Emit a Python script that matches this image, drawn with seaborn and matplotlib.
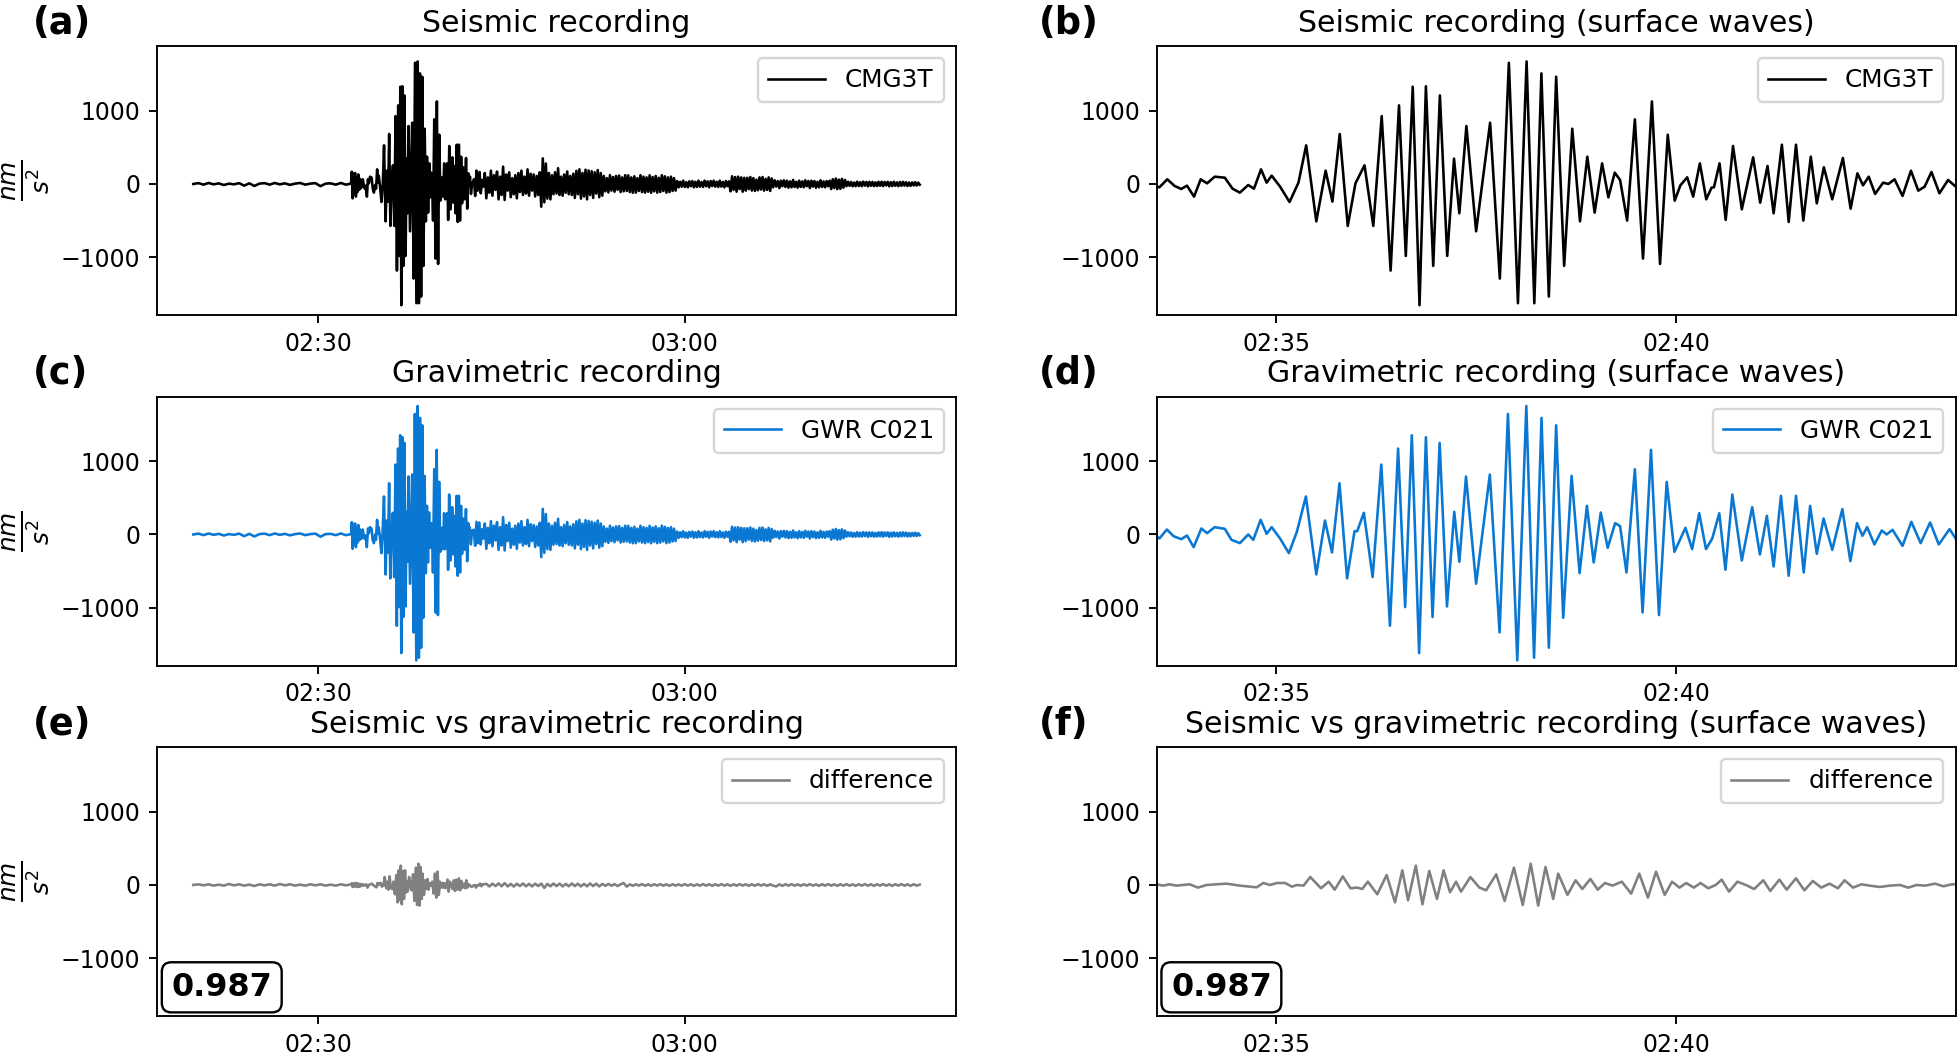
import numpy as np
import pandas as pd
import matplotlib
matplotlib.use("Agg")
import matplotlib.pyplot as plt
import matplotlib.dates as mdates
import seaborn as sns

# Times are seconds relative to 02:33:30 (start of the surface wave window)
START = pd.Timestamp("2021-08-12 02:33:30")

# --- before the window (shared by seismometer and gravimeter, they overlap at this scale)
pre_t = [-825, -800, -775, -750, -725, -700, -675, -650, -625, -600, -575, -550, -525, -500,
         -475, -450, -425, -400, -375, -350, -325, -300, -275, -250, -225, -200, -175, -150,
         -125, -100, -75, -50, -46, -42, -38, -34, -30, -26, -22, -18, -14, -10, -6, -3]
pre_v = [0, 12, -9, 14, -5, 9, -14, 5, -5, 12, -23, 9, -27, 5, 12, -9, 14, -5, 9, -12,
         5, 14, -9, 5, 12, -30, 5, 9, -9, 14, -9, 5,
         168, -196, 140, -120, 150, -173, 90, -110, 130, -80, 70, -60]
diff_pre_v = [0, 9, -5, 9, -9, 5, -9, 14, -5, 9, -9, 5, -14, 9, -5, 9, -9, 14, -5, 9,
              -9, 5, -9, 9, -5, 9, -9, 5, -9, 9, -5, 9,
              23, -27, 18, -23, 27, -18, 23, -27, 18, -23, 14, -18]

# --- surface wave window, 02:33:30 - 02:43:30 (peaks and troughs)
seis_t = [0, 2.1, 8.0, 13.5, 18.5, 22.8, 28.1, 33.1, 37.9, 43.6,
          51.2, 57.0, 62.5, 68.8, 73.1, 78.4, 82.6, 86.4, 92.7, 99.8,
          106.5, 112.3, 119.9, 126.9, 132.0, 137.5, 143.5, 149.3, 156.1, 162.7,
          169.0, 175.7, 182.0, 187.1, 192.3, 197.4, 202.2, 207.7, 212.7, 218.2,
          223.3, 227.3, 232.6, 239.9, 250.4, 257.7, 264.5, 271.3, 277.8, 283.6,
          288.9, 294.5, 300.0, 306.0, 312.1, 317.9, 323.4, 328.9, 334.5, 339.2,
          344.0, 348.0, 353.3, 359.1, 365.2, 371.9, 378.0, 383.8, 389.0, 393.3,
          398.4, 402.9, 407.9, 412.7, 416.7, 418.5, 422.7, 427.3, 432.8, 439.4,
          447.9, 453.2, 458.7, 463.3, 469.5, 474.6, 480.1, 485.6, 491.2, 495.7,
          501.0, 507.3, 515.3, 521.1, 526.2, 530.4, 534.7, 539.5, 545.5, 549.5,
          554.1, 560.1, 566.4, 571.9, 576.7, 581.8, 587.8, 594.3, 600.0]
seis_v = [-36, -45, 64, -27, -68, -23, -173, 64, 9, 100,
          86, -64, -118, -14, -64, 200, 18, 114, -36, -246,
          18, 528, -510, 182, -241, 683, -573, 9, 255, -573,
          928, -1183, 1074, -983, 1329, -1656, 1335, -1119, 1210, -983,
          346, -400, 792, -646, 837, -1292, 1656, -1629, 1674, -1629,
          1511, -1538, 1465, -1119, 755, -510, 373, -391, 282, -182,
          155, 55, -500, 883, -1019, 1128, -1092, 673, -228, -18,
          91, -173, 282, -209, -50, -45, 282, -491, 519, -346,
          364, -255, 246, -400, 537, -519, 537, -500, 373, -264,
          228, -209, 355, -337, 146, -18, 100, -136, 18, 0,
          64, -164, 182, -91, -36, 164, -127, 55, -36]

grav_t = [0, 2.1, 7.7, 12.7, 18.5, 22.8, 27.8, 33.6, 37.9, 43.6,
          51.2, 56.2, 62.5, 68.8, 72.6, 78.1, 82.6, 86.4, 92.7, 99.3,
          105.3, 112.1, 119.9, 126.4, 131.7, 137.3, 143.0, 148.6, 150.6, 155.6,
          162.2, 168.7, 175.2, 181.3, 186.6, 191.6, 197.1, 202.2, 207.2, 212.5,
          218.0, 223.5, 227.3, 232.3, 239.9, 250.2, 257.5, 263.8, 270.8, 277.6,
          283.4, 289.0, 294.5, 300.0, 305.3, 311.6, 317.6, 323.1, 328.2, 333.5,
          338.7, 344.3, 348.0, 352.8, 359.1, 364.9, 371.2, 377.2, 383.0, 388.8,
          397.1, 402.1, 407.4, 412.5, 417.2, 422.5, 427.1, 432.3, 439.4, 447.2,
          453.0, 458.2, 463.3, 468.8, 474.6, 480.1, 485.9, 490.7, 495.7, 500.8,
          507.3, 514.9, 520.9, 525.9, 530.0, 533.5, 539.0, 544.5, 548.1, 552.6,
          560.1, 566.7, 573.7, 580.8, 587.3, 595.4, 600.0]
grav_v = [-23, -55, 68, -23, -64, -14, -173, 82, 18, 100,
          77, -73, -118, 0, -73, 200, 9, 100, -55, -255,
          36, 519, -546, 191, -246, 700, -600, 45, 45, 296,
          -582, 955, -1247, 1174, -992, 1356, -1620, 1329, -1128, 1251,
          -983, 309, -373, 792, -673, 819, -1338, 1647, -1720, 1756,
          -1684, 1593, -1547, 1492, -1138, 801, -528, 391, -382, 300,
          -182, 155, 114, -519, 892, -1065, 1156, -1101, 719, -237,
          91, -200, 291, -200, -55, 291, -482, 546, -355, 373,
          -273, 255, -437, 528, -564, 528, -519, 391, -264, 218,
          -209, 346, -364, 155, -18, 100, -136, 55, 0, 64,
          -155, 173, -118, 164, -136, 73, -55]

diff_t = [0, 4.7, 9.7, 14.7, 24.8, 31.1, 37.4, 52.5, 62.5, 75.1,
          80.1, 85.2, 90.2, 96.5, 101.5, 105.3, 110.3, 115.4, 123.4, 129.2,
          133.7, 139.8, 145.5, 150.6, 154.4, 158.6, 165.7, 172.7, 179.0, 184.5,
          188.8, 194.6, 199.6, 204.7, 210.5, 215.5, 220.3, 224.8, 228.6, 235.6,
          242.4, 247.4, 255.0, 261.3, 268.3, 274.9, 280.9, 286.5, 292.0, 297.8,
          301.5, 308.5, 314.6, 319.6, 325.7, 331.2, 336.7, 342.3, 349.3, 356.3,
          362.4, 368.9, 375.0, 381.5, 387.0, 392.6, 397.6, 403.4, 408.4, 414.2,
          419.8, 424.3, 429.8, 436.1, 442.4, 448.7, 455.5, 460.8, 467.6, 473.1,
          480.1, 486.4, 492.7, 499.0, 505.3, 511.6, 516.6, 522.9, 529.2, 535.5,
          543.0, 550.6, 558.1, 564.4, 570.7, 577.0, 584.5, 590.8, 597.1, 600.0]
diff_v = [9, -9, 9, -9, 9, -36, 0, 18, -9, -32,
          27, 0, 27, 27, -23, 0, -9, 109, -45, 45,
          -64, 118, -45, -36, -55, 45, -127, 136, -237, 200,
          -209, 264, -264, 191, -191, 200, -100, 45, -91, 109,
          -36, -73, 146, -218, 237, -273, 291, -282, 246, -191,
          155, -136, 64, -55, 82, -64, 27, -9, 45, -118,
          155, -173, 182, -136, 45, -36, 27, -36, 27, -45,
          0, 73, -91, 45, 0, -55, 64, -82, 73, -64,
          91, -73, 55, -36, 18, -45, 64, -36, 9, -9,
          -27, -9, 0, -36, 0, -9, 18, -18, 9, 9]

# --- coda after the window, one value every 7.5 s from 607.5 s to 03:19
CODA_START, CODA_STEP = 607.5, 7.5
coda_v = [150, -196, 90, -120, 182, -160, 120, -80, 170, -210, 100, -150, 237, -218, 130, -90, 160, -180, 80,
          -140, 120, -196, 150, -110, 182, -150, 100, -130, 200, -160, 140, -90, 130, -170, 110, -150, 160,
          -310, 350, -250, 280, -200,
          150, -210, 120, -140, 160, -130, 215, -150, 100, -160, 130, -120, 170, -140, 110, -150, 140,
          -190, 180, -140, 200, -200, 150, -170, 195, -210, 185, -150, 175, -190, 160, -130, 190, -180, 150, -160,
          110, -100, 80, -115, 120, -90, 95, -105, 110, -80, 115, -110, 90, -100, 120, -95,
          118, -110, 90, -120, 105, -118, 80, -95, 120, -110, 100, -118, 90, -105, 118, -120,
          95, -100, 110, -118, 85, -110, 120, -95, 105, -118, 90, -110, 100, -95, 80, -90,
          40, -45, 30, -36, 45, -40, 25, -45, 36, -30, 40, -45, 30, -40, 45, -36, 28, -40,
          45, -30, 36, -45, 40, -28, 45, -36, 30, -40, 45, -36, 28, -45, 40, -30, 36,
          -100, 105, -80, 95, -105, 100, -70, 90, -105, 85,
          -90, 85, -70, 95, -90, 80, -95, 60, -85, 90, -75, 95, -90, 70, -80, 90, -95, 75,
          -45, 50, -35, 40, -55, 45, -30, 50, -40, 45, -50, 35, -45, 55, -40, 30, -50, 45, -40,
          35, -45, 50, -30, 40, -55, 45, -35, 40, -50, 30, -45, 50, -40, 35, -45, 40, -30, 45,
          -70, 65, -55, 75, -70, 60, -65, 70, -50, 55,
          -30, 32, -25, 28, -32, 20, -30, 32, -28, 25, -30, 32, -22, 28, -32, 30, -25, 28, -30, 22,
          -28, 30, -25, 32, -30, 28, -20, 30, -32, 25, -28, 30, -25, 22, -30, 28, -25, 30, -22, 25,
          -28, 20, -25, 22, -20, 25, -22, 18, -10]

# difference after the window, one value every 15 s
DIFF_CODA_START, DIFF_CODA_STEP = 615, 15
diff_coda_v = [15, -20, 18, -15, 22, -18, 25, -20, 15, -22, 18, -15, 20, -18, 15, -20, 18, -15,
               20, -40, 15, -18, 20, -15, 18, -20, 15, -18, 20,
               -15, 18, -20, 15, -18, 20, -15, 18, -20, 15,
               -12, 15, -10, 12, -15, 10, 27, -23,
               9, -12, 10, -9, 12, -10, 9, -12, 10, -9, 12, -10, 9, -12, 10, -9,
               9, -10, 12, -9, 10, -12, 9, -10, 12, -9, 10, -12, 9, -10, 12, -9, 10, -12,
               9, -10, 12, -9, 10,
               -12, 9, -10, 12, -9, 10, -12, 9, -10,
               -20, 9, -12, 10, -9, 12, -10, 9, -12, 10, -9, 12, -10, 9, -12, 10, -9, 12, -10,
               9, -12, 10, -9, 12,
               -10, 9, -12, 10, -9, 12, -10, 9, -12, 10, -9, 12, -10, 9, -12, 10, -9, 12, -10, 9, -12, 10, -9, 5]

correlation = "0.987"
titles = ["Seismic recording", "Seismic recording (surface waves)",
          "Gravimetric recording", "Gravimetric recording (surface waves)",
          "Seismic vs gravimetric recording", "Seismic vs gravimetric recording (surface waves)"]
panel_tags = ["(a)", "(b)", "(c)", "(d)", "(e)", "(f)"]


def to_time(sec):
    return START + pd.to_timedelta(np.asarray(sec, dtype=float), unit="s")


coda_t = CODA_START + CODA_STEP * np.arange(len(coda_v))
diff_coda_t = DIFF_CODA_START + DIFF_CODA_STEP * np.arange(len(diff_coda_v))


def frame(t, v):
    return pd.DataFrame({"time": to_time(t), "value": np.asarray(v, dtype=float)})


full_seis = frame(np.concatenate([pre_t, seis_t, coda_t]), pre_v + seis_v + coda_v)
full_grav = frame(np.concatenate([pre_t, grav_t, coda_t]), pre_v + grav_v + coda_v)
full_diff = frame(np.concatenate([pre_t, diff_t, diff_coda_t]), diff_pre_v + diff_v + diff_coda_v)
win_seis = frame(seis_t, seis_v)
win_grav = frame(grav_t, grav_v)
win_diff = frame(diff_t, diff_v)

plt.rcParams["font.family"] = ["DejaVu Sans"]

fig, axes = plt.subplots(3, 2, figsize=(1960 / 170, 1058 / 170), dpi=170)
fig.subplots_adjust(left=0.0801, right=0.9978, top=0.9565, bottom=0.0397,
                    wspace=0.251, hspace=0.303)

rows = [(full_seis, win_seis, "black", "CMG3T"),
        (full_grav, win_grav, "#0a78d2", "GWR C021"),
        (full_diff, win_diff, "grey", "difference")]

for r, (full, win, col, lab) in enumerate(rows):
    for c, df in enumerate([full, win]):
        ax = axes[r, c]
        sns.lineplot(data=df, x="time", y="value", ax=ax, color=col, lw=1.1,
                     label=lab, estimator=None, sort=False)
        ax.set_ylim(-1790, 1885)
        ax.set_yticks([-1000, 0, 1000])
        ax.set_xlabel("")
        ax.set_ylabel(r"$\frac{nm}{s^2}$" if c == 0 else "", fontsize=15)
        ax.xaxis.set_major_formatter(mdates.DateFormatter("%H:%M"))
        if c == 0:
            ax.xaxis.set_major_locator(mdates.MinuteLocator(byminute=[0, 30]))
        else:
            ax.xaxis.set_major_locator(mdates.MinuteLocator(byminute=range(0, 60, 5)))
            ax.set_xlim(to_time(0), to_time(600))
        ax.legend(loc="upper right", fontsize=10.5, handlelength=2.3)
        ax.set_title(titles[2 * r + c], fontsize=12.7)
        ax.text(-0.155 if c == 0 else -0.147, 1.046, panel_tags[2 * r + c],
                transform=ax.transAxes, fontsize=15.5, fontweight="bold",
                ha="left", va="baseline")
        if r == 2:
            ax.text(0.018, 0.075, correlation, transform=ax.transAxes, fontsize=13.5,
                    fontweight="bold", ha="left", va="baseline",
                    bbox=dict(boxstyle="round,pad=0.3", facecolor="white", edgecolor="black"))

fig.savefig("out.png", dpi=170)
